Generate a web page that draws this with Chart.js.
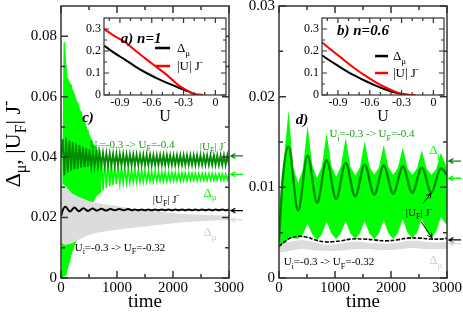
<!DOCTYPE html>
<html>
<head>
<meta charset="utf-8">
<script src="https://cdn.jsdelivr.net/npm/chart.js@4.4.0/dist/chart.umd.min.js"></script>
<style>
  html, body { margin: 0; padding: 0; background: #fff; }
  #wrap { position: relative; width: 463px; height: 312px; }
  #wrap canvas { position: absolute; left: 0; top: 0; }
</style>
</head>
<body>
<div id="wrap">
  <canvas id="chartC" width="463" height="312"></canvas>
  <canvas id="chartD" width="463" height="312"></canvas>
  <canvas id="insetA" width="463" height="312"></canvas>
  <canvas id="insetB" width="463" height="312"></canvas>
</div>
<script>
// ===== DATA : panel c (n=1) =====
// sample grid of the fast oscillations (peaks / troughs)
const timeFastC = [];
for (let t = 0; t <= 3000; t += 30) timeFastC.push(t);

// Delta_mu, quench -0.3 -> -0.4 (bright green)
const dmuBigC = [
  0.030, 0.000, 0.078, 0.001, 0.066, 0.005, 0.064, 0.009, 0.061, 0.012,
  0.058, 0.015, 0.055, 0.018, 0.052, 0.021, 0.049, 0.023, 0.046, 0.025,
  0.044, 0.027, 0.042, 0.028, 0.040, 0.029, 0.039, 0.0298, 0.0382, 0.0304,
  0.0376, 0.0308, 0.0372, 0.0311, 0.0368, 0.0313, 0.0365, 0.0315, 0.0362, 0.0316,
  0.0360, 0.0317, 0.0358, 0.0318, 0.0357, 0.0318, 0.0356, 0.0319, 0.0355, 0.0319,
  0.0354, 0.0320, 0.0353, 0.0320, 0.0352, 0.0320, 0.0352, 0.0321, 0.0351, 0.0321,
  0.0350, 0.0321, 0.0350, 0.0321, 0.0349, 0.0322, 0.0349, 0.0322, 0.0348, 0.0322,
  0.0348, 0.0322, 0.0347, 0.0323, 0.0347, 0.0323, 0.0347, 0.0323, 0.0346, 0.0323,
  0.0346, 0.0323, 0.0346, 0.0324, 0.0345, 0.0324, 0.0345, 0.0324, 0.0345, 0.0324,
  0.0345, 0.0324, 0.0344, 0.0324, 0.0344, 0.0325, 0.0344, 0.0325, 0.0344, 0.0325,
  0.0344
];
// up to this time the oscillation is too fast to resolve: drawn as a solid band
const fastLimitC = 750;
// |U_F| J^-, quench -0.3 -> -0.4 (dark green)
const ujBigC = [
  0.040, 0.046, 0.034, 0.0465, 0.035, 0.0455, 0.0355, 0.045, 0.036, 0.0445,
  0.0362, 0.044, 0.0365, 0.0435, 0.0367, 0.043, 0.0368, 0.0425, 0.0369, 0.042,
  0.0370, 0.0417, 0.0371, 0.0415, 0.0371, 0.0414, 0.0371, 0.0413, 0.0372, 0.0412,
  0.0372, 0.0411, 0.0372, 0.0411, 0.0372, 0.0410, 0.0372, 0.0410, 0.0372, 0.0410,
  0.0373, 0.0409, 0.0373, 0.0409, 0.0373, 0.0409, 0.0373, 0.0408, 0.0373, 0.0408,
  0.0373, 0.0408, 0.0373, 0.0408, 0.0373, 0.0407, 0.0373, 0.0407, 0.0373, 0.0407,
  0.0374, 0.0407, 0.0374, 0.0407, 0.0374, 0.0406, 0.0374, 0.0406, 0.0374, 0.0406,
  0.0374, 0.0406, 0.0374, 0.0406, 0.0374, 0.0406, 0.0374, 0.0406, 0.0374, 0.0406,
  0.0374, 0.0406, 0.0374, 0.0406, 0.0374, 0.0406, 0.0374, 0.0406, 0.0374, 0.0406,
  0.0374, 0.0406, 0.0374, 0.0406, 0.0374, 0.0406, 0.0374, 0.0406, 0.0374, 0.0406,
  0.0374
];
// |U_F| J^-, quench -0.3 -> -0.32 (black)
const timeSmallC = [0, 40, 80, 160, 240, 320, 400, 480, 560, 640, 720, 800, 880, 960, 1040, 1120, 1200,
  1260, 1320, 1380, 1440, 1500, 1560, 1620, 1680, 1740, 1800, 1860, 1920, 1980, 2040,
  2100, 2160, 2220, 2280, 2340, 2400, 2460, 2520, 2580, 2640, 2700, 2760, 2820, 2880, 2940, 3000];
const ujSmallC = [0.0205, 0.0228, 0.0236, 0.0220, 0.0233, 0.0221, 0.0231, 0.0222, 0.0230, 0.0223,
  0.0229, 0.0223, 0.0228, 0.0224, 0.0228, 0.0224, 0.0228,
  0.0224, 0.0227, 0.0224, 0.0227, 0.0224, 0.0227, 0.0224, 0.0227, 0.0224, 0.0227,
  0.0224, 0.0227, 0.0224, 0.0227, 0.0224, 0.0227, 0.0224, 0.0227, 0.0224, 0.0227,
  0.0224, 0.0227, 0.0224, 0.0227, 0.0224, 0.0227, 0.0224, 0.0227, 0.0224, 0.0227];
// Delta_mu, quench -0.3 -> -0.32 (light grey envelope)
const timeGrayC = [0, 50, 100, 200, 300, 400, 500, 600, 800, 1000, 1200, 1500, 1800, 2100, 2400, 2700, 3000];
const dmuSmallHiC = [0.031, 0.031, 0.030, 0.028, 0.027, 0.0262, 0.0255, 0.025, 0.0243, 0.0238, 0.0232, 0.0225, 0.0218, 0.0213, 0.0210, 0.0208, 0.0206];
const dmuSmallLoC = [0.012, 0.011, 0.011, 0.0115, 0.0125, 0.0135, 0.0142, 0.0148, 0.0155, 0.0160, 0.0165, 0.0170, 0.0177, 0.0183, 0.0187, 0.0190, 0.0191];
// asymptotic values marked by arrows on the right
const arrowLevelsC = [0.0404, 0.0343, 0.0223, 0.0193];

// ===== DATA : panel d (n=0.6) =====
const timeDkD = [0, 60, 170, 340, 510, 680, 850, 1020, 1190, 1360, 1530, 1700, 1870, 2040, 2210, 2380, 2550, 2720, 2890, 3000];
const ujBigD = [0.0040, 0.0105, 0.0145, 0.0074, 0.0135, 0.0083, 0.0130, 0.0087, 0.0127, 0.0090, 0.0125, 0.0092, 0.0124, 0.0093, 0.0123, 0.0094, 0.0122, 0.0094, 0.0121, 0.0114];
const timeBandD = [0, 40, 170, 255, 340, 425, 510, 595, 680, 765, 850, 935, 1020, 1105, 1190, 1275, 1360, 1445,
  1530, 1615, 1700, 1785, 1870, 1955, 2040, 2125, 2210, 2295, 2380, 2465, 2550, 2635, 2720, 2805, 2890, 3000];
const dmuBigHiD = [0.0045, 0.0100, 0.0185, 0.0122, 0.0105, 0.0120, 0.0168, 0.0124, 0.0110, 0.0123, 0.0160, 0.0124,
  0.0112, 0.0123, 0.0155, 0.0123, 0.0113, 0.0122, 0.0151, 0.0123, 0.0114, 0.0122, 0.0147, 0.0122,
  0.0114, 0.0122, 0.0144, 0.0121, 0.0114, 0.0121, 0.0141, 0.0121, 0.0114, 0.0120, 0.0138, 0.0122];
const dmuBigLoD = [0.0030, 0.0030, 0.0045, 0.0044, 0.0043, 0.0048, 0.0060, 0.0048, 0.0042, 0.0048, 0.0062, 0.0049,
  0.0043, 0.0049, 0.0063, 0.0049, 0.0043, 0.0049, 0.0063, 0.0049, 0.0043, 0.0049, 0.0064, 0.0049,
  0.0043, 0.0050, 0.0065, 0.0050, 0.0044, 0.0050, 0.0066, 0.0051, 0.0044, 0.0051, 0.0067, 0.0058];
const timeSmallD = [0, 100, 200, 350, 500, 650, 800, 950, 1100, 1300, 1500, 1700, 1900, 2100, 2300, 2500, 2700, 2900, 3000];
const ujSmallD = [0.0035, 0.0040, 0.0044, 0.0046, 0.0045, 0.0042, 0.0040, 0.0040, 0.0041, 0.0043, 0.0043, 0.0042, 0.0041, 0.0042, 0.0044, 0.0044, 0.0043, 0.0043, 0.0044];
const timeGrayD = [0, 200, 400, 600, 800, 1000, 1200, 1400, 1600, 1800, 2000, 2200, 2400, 2600, 2800, 3000];
const dmuSmallHiD = [0.0037, 0.0040, 0.0042, 0.0040, 0.0037, 0.0037, 0.0039, 0.0040, 0.0039, 0.0038, 0.0038, 0.0040, 0.0041, 0.0040, 0.0039, 0.0040];
const dmuSmallLoD = [0.0028, 0.0030, 0.0032, 0.0031, 0.0030, 0.0030, 0.0031, 0.0032, 0.0032, 0.0031, 0.0031, 0.0032, 0.0033, 0.0032, 0.0032, 0.0032];
const arrowLevelsD = [0.0129, 0.0110, 0.0042, 0.0038];

// ===== DATA : insets (ground state vs U) =====
const uA = [-1.05, -0.95, -0.85, -0.75, -0.65, -0.55, -0.45, -0.35, -0.25, -0.20, -0.12];
const dmuA = [0.225, 0.190, 0.160, 0.128, 0.100, 0.076, 0.054, 0.034, 0.015, 0.004, 0.000];
const ujA = [0.300, 0.268, 0.240, 0.200, 0.162, 0.125, 0.088, 0.045, 0.016, 0.004, 0.000];
const uB = [-1.05, -0.95, -0.85, -0.75, -0.65, -0.55, -0.45, -0.35, -0.27, -0.22, -0.17];
const dmuB = [0.180, 0.148, 0.118, 0.090, 0.066, 0.044, 0.025, 0.010, 0.002, 0.000, 0.000];
const ujB = [0.240, 0.200, 0.162, 0.124, 0.090, 0.060, 0.034, 0.013, 0.002, 0.000, 0.000];

// ===== TICKS =====
const timeTicks = [0, 1000, 2000, 3000];
const timeLabels = ['0', '1000', '2000', '3000'];
const timeMinor = [500, 1500, 2500];
const yTicksC = [0, 0.02, 0.04, 0.06, 0.08];
const yLabelsC = ['0', '0.02', '0.04', '0.06', '0.08'];
const yMinorC = [0.01, 0.03, 0.05, 0.07];
const yTicksD = [0, 0.01, 0.02, 0.03];
const yLabelsD = ['0', '0.01', '0.02', '0.03'];
const yMinorD = [0.005, 0.015, 0.025];
const uTicks = [-0.9, -0.6, -0.3, 0];
const uLabels = ['-0.9', '-0.6', '-0.3', '0'];
const uMinor = [-1.0, -0.8, -0.7, -0.5, -0.4, -0.2, -0.1];
const gapTicks = [0, 0.1, 0.2, 0.3];
const gapLabels = ['0', '0.1', '0.2', '0.3'];
const gapMinor = [0.05, 0.15, 0.25];

// ===== STYLE =====
const FONT = '"Liberation Serif", "Times New Roman", serif';
const GREEN = '#00ff00';
const DKGREEN = '#008b00';
const GREENTXT = '#169c16';
const GRAY = '#dcdcdc';
const GRAYTXT = '#cccccc';
const CLEAR = 'rgba(0,0,0,0)';

const pts = (xs, ys) => xs.map((x, i) => ({ x: x, y: ys[i] }));

// envelope of the fast part of panel c: peaks are the even samples, troughs the odd ones
const fastC = pts(timeFastC, dmuBigC).filter(p => p.x <= fastLimitC);
const fastHiC = fastC.filter((p, i) => i % 2 === 0);
const fastLoC = fastC.filter((p, i) => i % 2 === 1);

// rich text: parts = [[text, ''|'sub'|'sup'], ...], (x, y) = centre
function drawRich(ctx, parts, x, y, size, color, style, align) {
  const sm = Math.round(size * 0.72);
  const fontOf = p => (style ? style + ' ' : '') + (p[1] ? sm : size) + 'px ' + FONT;
  let total = 0;
  const ws = parts.map(p => { ctx.font = fontOf(p); const w = ctx.measureText(p[0]).width; total += w; return w; });
  let cx = align === 'left' ? x : x - total / 2;
  const base = y + size * 0.33;
  ctx.fillStyle = color;
  ctx.textAlign = 'left';
  ctx.textBaseline = 'alphabetic';
  parts.forEach((p, i) => {
    ctx.font = fontOf(p);
    const dy = p[1] === 'sub' ? size * 0.28 : p[1] === 'sup' ? -size * 0.42 : 0;
    ctx.fillText(p[0], cx, base + dy);
    cx += ws[i];
  });
}

function arrow(ctx, x0, y0, x1, y1, color, w, head) {
  const ang = Math.atan2(y1 - y0, x1 - x0), h = head || 5;
  ctx.strokeStyle = color;
  ctx.lineWidth = w;
  ctx.beginPath();
  ctx.moveTo(x0, y0); ctx.lineTo(x1, y1);
  ctx.moveTo(x1 - h * Math.cos(ang - 0.5), y1 - h * Math.sin(ang - 0.5));
  ctx.lineTo(x1, y1);
  ctx.lineTo(x1 - h * Math.cos(ang + 0.5), y1 - h * Math.sin(ang + 0.5));
  ctx.stroke();
}

// frame, inward ticks, annotations
function decor(cfg) {
  return {
    id: 'decor',
    beforeDraw(chart) {
      if (!cfg.bg) return;
      const a = chart.chartArea, ctx = chart.ctx;
      ctx.save();
      ctx.fillStyle = cfg.bg;
      ctx.fillRect(a.left, a.top, a.right - a.left, a.bottom - a.top);
      ctx.restore();
    },
    afterDraw(chart) {
      const { ctx, chartArea: a } = chart;
      const X = v => chart.scales.x.getPixelForValue(v);
      const Y = v => chart.scales.y.getPixelForValue(v);
      ctx.save();
      ctx.strokeStyle = '#333';
      ctx.lineWidth = cfg.lw;
      ctx.strokeRect(a.left, a.top, a.right - a.left, a.bottom - a.top);
      ctx.beginPath();
      [[cfg.xMajor, cfg.major], [cfg.xMinor, cfg.minor]].forEach(([list, len]) => list.forEach(v => {
        const p = X(v);
        ctx.moveTo(p, a.bottom); ctx.lineTo(p, a.bottom - len);
        ctx.moveTo(p, a.top); ctx.lineTo(p, a.top + len);
      }));
      [[cfg.yMajor, cfg.major], [cfg.yMinor, cfg.minor]].forEach(([list, len]) => list.forEach(v => {
        const p = Y(v);
        ctx.moveTo(a.left, p); ctx.lineTo(a.left + len, p);
        ctx.moveTo(a.right, p); ctx.lineTo(a.right - len, p);
      }));
      ctx.stroke();

      (cfg.texts || []).forEach(t => drawRich(ctx, t.parts, X(t.at[0]), Y(t.at[1]), t.size, t.color, t.style, t.align));
      (cfg.pointers || []).forEach(p => arrow(ctx, X(p.from[0]), Y(p.from[1]), X(p.to[0]), Y(p.to[1]), p.color, 1, 5));
      if (cfg.side) cfg.side.levels.forEach((v, i) => {
        const p = Y(v);
        arrow(ctx, a.right + 14, p, a.right + 2, p, cfg.side.colors[i], 1.3, 5);
      });
      (cfg.legend || []).forEach(l => {
        ctx.strokeStyle = l.color;
        ctx.lineWidth = 2.5;
        ctx.beginPath();
        ctx.moveTo(X(l.from), Y(l.v)); ctx.lineTo(X(l.to), Y(l.v));
        ctx.stroke();
        drawRich(ctx, l.parts, X(l.textAt), Y(l.v), 13, '#000', '', 'left');
      });
      if (cfg.yTitle) {
        const t = cfg.yTitle;
        ctx.translate(t.x, t.y);
        ctx.rotate(-Math.PI / 2);
        drawRich(ctx, t.parts, 0, 0, t.size, '#000', '');
      }
      ctx.restore();
    }
  };
}

function xAxis(min, max, ticks, labels, h, fs, pad, title, tfs) {
  return {
    type: 'linear', position: 'bottom', min: min, max: max,
    grid: { display: false, drawTicks: false }, border: { display: false },
    afterBuildTicks: s => { s.ticks = ticks.map(v => ({ value: v })); },
    afterFit: s => { s.height = h; s.paddingLeft = 0; s.paddingRight = 0; },
    ticks: { autoSkip: false, maxRotation: 0, minRotation: 0, padding: pad, color: '#000',
      font: { family: FONT, size: fs }, callback: (v, i) => labels[i] },
    title: { display: true, text: title, color: '#000', padding: 0,
      font: { family: FONT, size: tfs, lineHeight: 1 } }
  };
}

function yAxis(min, max, ticks, labels, w, fs, pad) {
  return {
    type: 'linear', position: 'left', min: min, max: max,
    grid: { display: false, drawTicks: false }, border: { display: false },
    afterBuildTicks: s => { s.ticks = ticks.map(v => ({ value: v })); },
    afterFit: s => { s.width = w; s.paddingTop = 0; s.paddingBottom = 0; },
    ticks: { autoSkip: false, padding: pad, color: '#000',
      font: { family: FONT, size: fs }, callback: (v, i) => labels[i] }
  };
}

function baseOptions(padding, x, y) {
  return {
    responsive: false, animation: false, events: [],
    layout: { padding: padding },
    plugins: { legend: { display: false }, tooltip: { enabled: false } },
    elements: { point: { radius: 0 } },
    scales: { x: x, y: y }
  };
}

const DMU = [['Δ', ''], ['μ', 'sub']];
const UFJ = [['|U', ''], ['F', 'sub'], ['| J', ''], ['-', 'sup']];
const Q04 = [['U', ''], ['i', 'sub'], ['=-0.3 -> U', ''], ['F', 'sub'], ['=-0.4', '']];
const Q032 = [['U', ''], ['i', 'sub'], ['=-0.3 -> U', ''], ['F', 'sub'], ['=-0.32', '']];
const UJ = [['|U| J', ''], ['-', 'sup']];

// ===== PANEL c =====
new Chart(document.getElementById('chartC'), {
  type: 'line',
  data: {
    datasets: [
      { data: pts(timeSmallC, ujSmallC), borderColor: '#000', borderWidth: 2, tension: 0.4, order: 0 },
      { data: pts(timeGrayC, dmuSmallHiC), borderColor: CLEAR, backgroundColor: GRAY, fill: 2, order: 1 },
      { data: pts(timeGrayC, dmuSmallLoC), borderColor: CLEAR, fill: false, order: 1 },
      { data: pts(timeFastC, ujBigC), borderColor: DKGREEN, borderWidth: 1.8, order: 2 },
      { data: pts(timeFastC, dmuBigC), borderColor: GREEN, borderWidth: 1.6, order: 3 },
      { data: fastHiC, borderColor: CLEAR, backgroundColor: GREEN, fill: 6, order: 4 },
      { data: fastLoC, borderColor: CLEAR, fill: false, order: 4 }
    ]
  },
  options: baseOptions({ left: 0, top: 6, right: 234, bottom: 0 },
    xAxis(0, 3000, timeTicks, timeLabels, 34, 15, 1, 'time', 19),
    yAxis(0, 0.09, yTicksC, yLabelsC, 61, 15, 4)),
  plugins: [decor({
    lw: 1.5, major: 7, minor: 4,
    xMajor: timeTicks, xMinor: timeMinor, yMajor: yTicksC, yMinor: yMinorC,
    side: { levels: arrowLevelsC, colors: [DKGREEN, GREEN, '#000', GRAY] },
    texts: [
      { at: [482, 0.0533], parts: [['c)', '']], size: 15, color: '#000', style: 'italic bold' },
      { at: [1268, 0.0443], parts: Q04, size: 11, color: GREENTXT },
      { at: [2714, 0.0437], parts: UFJ, size: 11, color: GREENTXT },
      { at: [2661, 0.0283], parts: DMU, size: 13, color: GREEN },
      { at: [1875, 0.0260], parts: UFJ, size: 11, color: '#000' },
      { at: [2661, 0.0153], parts: DMU, size: 13, color: GRAYTXT },
      { at: [1054, 0.0103], parts: Q032, size: 11, color: '#000' }
    ],
    yTitle: { x: 13, y: 144, size: 22, parts: [['Δ', ''], ['μ', 'sub'], [', |U', ''], ['F', 'sub'], ['| J', ''], ['-', 'sup']] }
  })]
});

// ===== PANEL d =====
new Chart(document.getElementById('chartD'), {
  type: 'line',
  data: {
    datasets: [
      { data: pts(timeSmallD, ujSmallD), borderColor: '#000', borderWidth: 1.6, borderDash: [4, 1.5], tension: 0.4, order: 0 },
      { data: pts(timeGrayD, dmuSmallHiD), borderColor: CLEAR, backgroundColor: GRAY, fill: 2, tension: 0.3, order: 1 },
      { data: pts(timeGrayD, dmuSmallLoD), borderColor: CLEAR, fill: false, tension: 0.3, order: 1 },
      { data: pts(timeDkD, ujBigD), borderColor: DKGREEN, borderWidth: 2.4, cubicInterpolationMode: 'monotone', order: 2 },
      { data: pts(timeBandD, dmuBigHiD), borderColor: CLEAR, backgroundColor: GREEN, fill: 5, order: 3 },
      { data: pts(timeBandD, dmuBigLoD), borderColor: CLEAR, fill: false, order: 3 }
    ]
  },
  options: baseOptions({ left: 239, top: 6, right: 16, bottom: 0 },
    xAxis(0, 3000, timeTicks, timeLabels, 34, 15, 1, 'time', 19),
    yAxis(0, 0.03, yTicksD, yLabelsD, 40, 15, 4)),
  plugins: [decor({
    lw: 1.5, major: 7, minor: 4,
    xMajor: timeTicks, xMinor: timeMinor, yMajor: yTicksD, yMinor: yMinorD,
    side: { levels: arrowLevelsD, colors: [DKGREEN, GREEN, '#000', GRAY] },
    texts: [
      { at: [411, 0.01756], parts: [['d)', '']], size: 15, color: '#000', style: 'italic bold' },
      { at: [1661, 0.0159], parts: Q04, size: 11, color: GREENTXT },
      { at: [2800, 0.0141], parts: DMU, size: 13, color: GREEN },
      { at: [2500, 0.00722], parts: UFJ, size: 11, color: '#000' },
      { at: [893, 0.00178], parts: Q032, size: 11, color: '#000' },
      { at: [2800, 0.0020], parts: DMU, size: 13, color: GRAYTXT }
    ],
    pointers: [
      { from: [2571, 0.00822], to: [2714, 0.00933], color: '#000' },
      { from: [2536, 0.00622], to: [2732, 0.00444], color: '#000' }
    ]
  })]
});

// ===== INSETS =====
function inset(id, padL, padR, us, dmu, uj, title, titleAt, legY) {
  new Chart(document.getElementById(id), {
    type: 'line',
    data: {
      datasets: [
        { data: pts(us, uj), borderColor: '#ff0000', borderWidth: 2, cubicInterpolationMode: 'monotone' },
        { data: pts(us, dmu), borderColor: '#000', borderWidth: 2, cubicInterpolationMode: 'monotone' }
      ]
    },
    options: baseOptions({ left: padL, top: 18, right: padR, bottom: 187 },
      xAxis(-1.05, 0.1, uTicks, uLabels, 30, 12, 1, 'U', 16),
      yAxis(0, 0.35, gapTicks, gapLabels, 30, 12, 3)),
    plugins: [decor({
      bg: '#fff', lw: 1.2, major: 5, minor: 3,
      xMajor: uTicks, xMinor: uMinor, yMajor: gapTicks, yMinor: gapMinor,
      texts: [{ at: titleAt, parts: [[title, '']], size: 15, color: '#000', style: 'italic bold' }],
      legend: [
        { from: legY[0], to: legY[1], textAt: legY[2], v: legY[3], color: '#000', parts: DMU },
        { from: legY[0], to: legY[1], textAt: legY[2], v: legY[4], color: '#ff0000', parts: UJ }
      ]
    })]
  });
}
inset('insetA', 74, 237, uA, dmuA, ujA, 'a) n=1', [-0.70, 0.259], [-0.569, -0.428, -0.362, 0.2136, 0.1318]);
inset('insetB', 292, 19, uB, dmuB, ujB, 'b) n=0.6', [-0.664, 0.295], [-0.550, -0.428, -0.381, 0.177, 0.100]);
</script>
</body>
</html>
